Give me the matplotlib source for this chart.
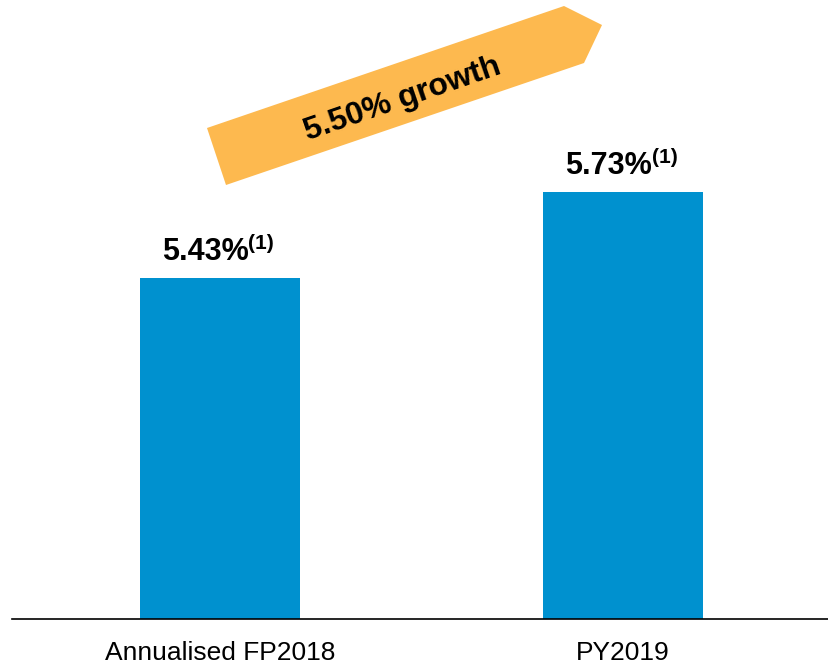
import matplotlib
matplotlib.use("Agg")
import matplotlib.pyplot as plt
from matplotlib.patches import Polygon

plt.rcParams['font.family'] = ['Liberation Sans', 'DejaVu Sans']

categories = ["Annualised FP2018", "PY2019"]
values = [5.43, 5.73]
value_labels = ["5.43%", "5.73%"]
footnote = "(1)"
growth_label = "5.50% growth"

BAR_COLOR = "#0091CF"
ARROW_COLOR = "#FDB94F"

W, H = 829, 664
fig = plt.figure(figsize=(W / 100, H / 100), dpi=100)

def px(x, y):
    return (x / W, 1 - y / H)

ax = fig.add_axes([12 / W, (H - 619) / H, (W - 12) / W, 619 / H])
xs = list(range(len(categories)))
ax.bar(xs, values, width=0.397, color=BAR_COLOR, zorder=2)
ax.set_xlim(-0.516, 1.511)
ax.set_ylim(4.235, 6.404)

for s in ["top", "right", "left"]:
    ax.spines[s].set_visible(False)
ax.spines["bottom"].set_linewidth(1.2)
ax.spines["bottom"].set_color("black")
ax.set_yticks([])
ax.set_xticks(xs)
ax.set_xticklabels(categories, fontsize=19)
ax.tick_params(axis="x", length=0, pad=16)

for x, v, lab in zip(xs, values, value_labels):
    ax.annotate(lab, xy=(x, v), xytext=(21, 13), textcoords="offset points",
                ha="right", va="baseline", fontsize=22, fontweight="bold")
    ax.annotate(footnote, xy=(x, v), xytext=(20.5, 21), textcoords="offset points",
                ha="left", va="baseline", fontsize=15, fontweight="bold")

# growth arrow (figure-pixel geometry)
arrow_px = [(207, 128), (564, 6), (602, 25), (584, 63), (226, 185)]
poly = Polygon([px(*p) for p in arrow_px], closed=True, transform=fig.transFigure,
               facecolor=ARROW_COLOR, edgecolor="none", zorder=1)
fig.patches.append(poly)
cx, cy = px(403, 99)
fig.text(cx, cy, growth_label, rotation=19, rotation_mode="anchor",
         ha="center", va="center", fontsize=23, fontweight="bold")

fig.savefig("out.png", dpi=100)
